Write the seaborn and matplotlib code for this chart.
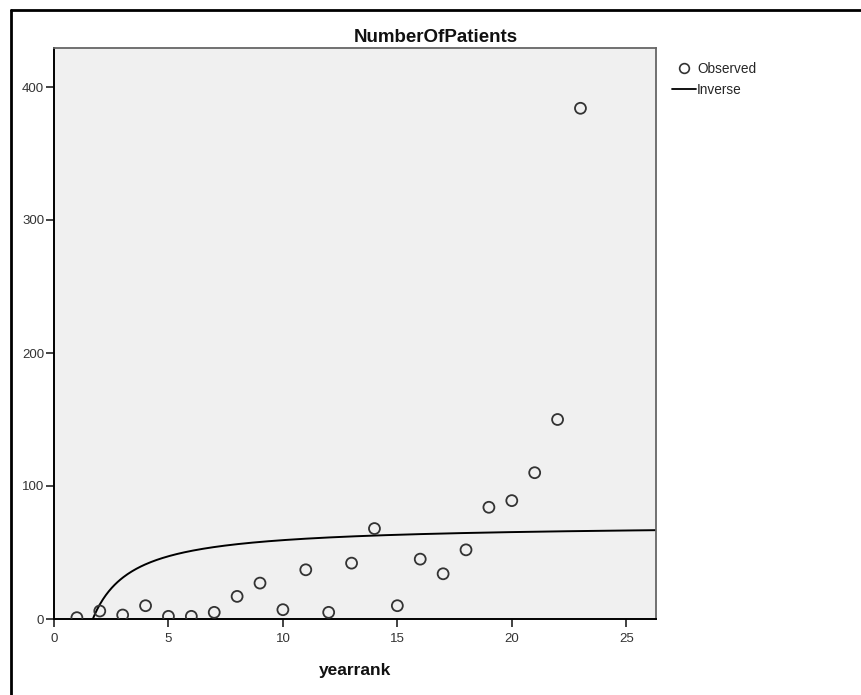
import numpy as np
import pandas as pd
import matplotlib
matplotlib.use("Agg")
import matplotlib.pyplot as plt
import seaborn as sns
from matplotlib.lines import Line2D

# Data
yearrank = [1, 2, 3, 4, 5, 6, 7, 8, 9, 10, 11, 12, 13, 14, 15, 16, 17, 18, 19, 20, 21, 22, 23]
patients = [1, 6, 3, 10, 2, 2, 5, 17, 27, 7, 37, 5, 42, 68, 10, 45, 34, 52, 84, 89, 110, 150, 384]
x_ticks = [0, 5, 10, 15, 20, 25]
y_ticks = [0, 100, 200, 300, 400]

df = pd.DataFrame({"yearrank": yearrank, "NumberOfPatients": patients})

# Inverse model y = b0 + b1 / x (least squares on the observed data)
b1, b0 = np.polyfit(1.0 / np.array(yearrank, dtype=float), np.array(patients, dtype=float), 1)
xs = np.linspace(1.0, 26.3, 400)
fit = pd.DataFrame({"yearrank": xs, "fit": b0 + b1 / xs})

sns.set_theme(style="white")
plt.rcParams["font.family"] = ["Liberation Sans", "DejaVu Sans"]

fig = plt.figure(figsize=(8.62, 6.95), dpi=100)
top_px = 48
ax = fig.add_axes([54 / 862, 1 - 619 / 695, (656 - 54) / 862, (619 - top_px) / 695])
ax.set_facecolor("#f0f0f0")

sns.scatterplot(data=df, x="yearrank", y="NumberOfPatients", ax=ax, s=62,
                facecolors="none", edgecolor="#333333", linewidth=1.3, zorder=3)
sns.lineplot(data=fit, x="yearrank", y="fit", ax=ax, color="black", linewidth=1.4, zorder=2)

ax.set_xlim(0, 26.3)
ax.set_ylim(0, (619 - top_px) / 133.0 * 100)
ax.set_xticks(x_ticks)
ax.set_yticks(y_ticks)
ax.tick_params(axis="both", which="both", direction="out", length=6, width=1.2,
               colors="#222222", labelsize=9.5, pad=1, bottom=True, left=True)
ax.tick_params(axis="x", pad=4)
for lbl in ax.get_xticklabels() + ax.get_yticklabels():
    lbl.set_color("#333333")

for side in ["left", "bottom"]:
    ax.spines[side].set_color("black")
    ax.spines[side].set_linewidth(1.4)
for side in ["top", "right"]:
    ax.spines[side].set_color("#666666")
    ax.spines[side].set_linewidth(1.3)

ax.set_ylabel("")
ax.set_xlabel("yearrank", fontsize=12.5, fontweight="bold", labelpad=13, color="#111111")
fig.text(436 / 862, 1 - 38 / 695, "NumberOfPatients", fontsize=13.5, fontweight="bold",
         color="#111111", ha="center", va="center")

handles = [
    Line2D([], [], marker="o", linestyle="none", markerfacecolor="none",
           markeredgecolor="#333333", markersize=7, markeredgewidth=1.2, label="Observed"),
    Line2D([], [], color="black", linewidth=1.3, label="Inverse"),
]
fig.legend(handles=handles, loc="upper left", bbox_to_anchor=(672 / 862, 1 - 62 / 695),
           frameon=False, fontsize=9.8, handlelength=1.8, handletextpad=0.05,
           borderaxespad=0, labelspacing=0.5, borderpad=0)

# Outer frame (top and left only, as in the reference)
fig.add_artist(Line2D([11 / 862, 11 / 862], [0, 1 - 10 / 695], transform=fig.transFigure,
                      color="black", linewidth=2))
fig.add_artist(Line2D([11 / 862, 1], [1 - 10 / 695, 1 - 10 / 695], transform=fig.transFigure,
                      color="black", linewidth=2))

fig.savefig("out.png", dpi=100)
